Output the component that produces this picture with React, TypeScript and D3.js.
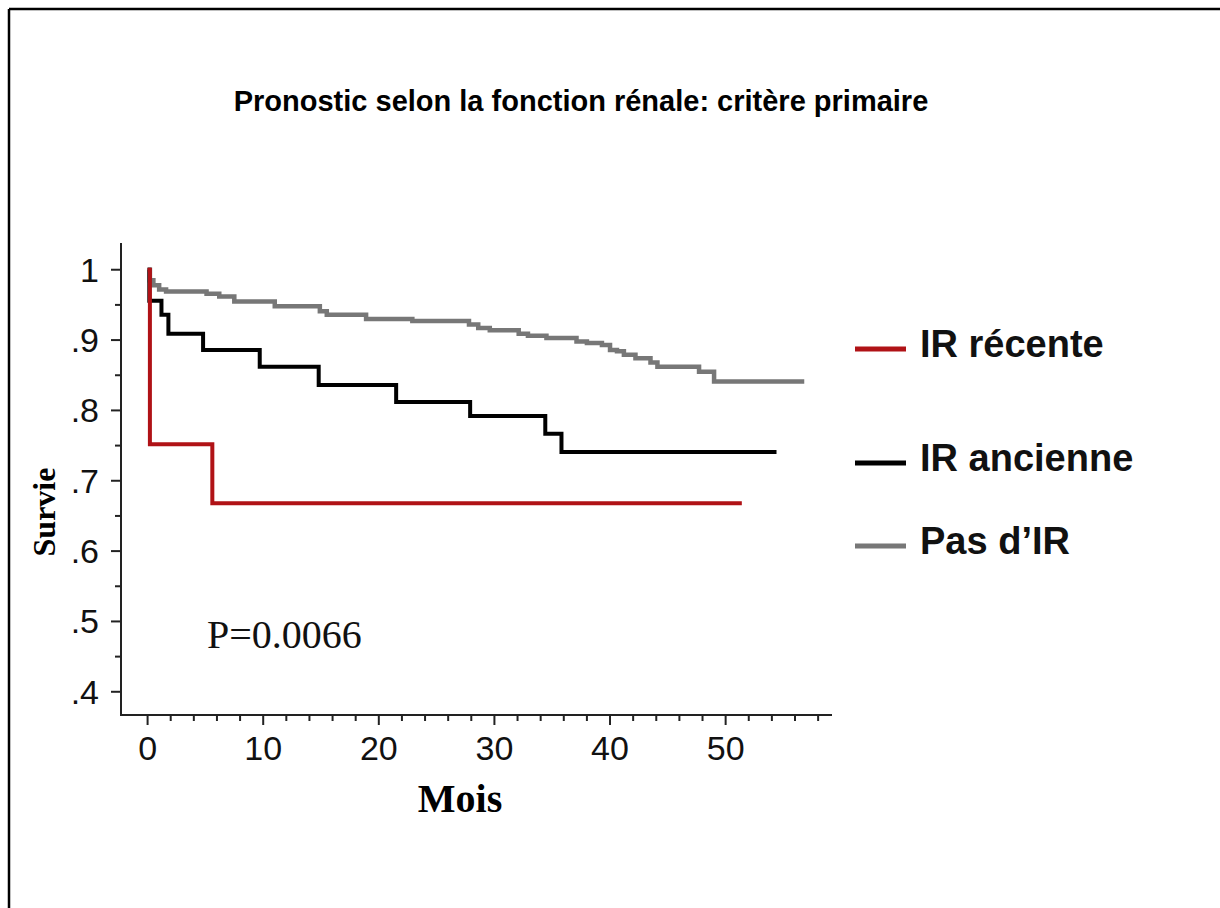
import React from 'react';
import * as d3 from 'd3';

const W = 1220;
const H = 908;

// Kaplan-Meier step points: [time in months, survival]
const recenteTimes = [0, 0.2, 5.6];
const recenteSurv = [1, 0.752, 0.668];
const recenteEnd = 51.4;

const ancienneTimes = [0, 0.15, 1.2, 1.8, 4.8, 9.7, 14.8, 21.5, 27.9, 34.4, 35.8];
const ancienneSurv = [1, 0.956, 0.936, 0.909, 0.886, 0.862, 0.836, 0.812, 0.792, 0.767, 0.741];
const ancienneEnd = 54.4;

const pasTimes = [0, 0.2, 0.5, 1.0, 1.6, 5.1, 6.2, 7.5, 11.0, 14.9, 15.5, 18.9, 22.9, 27.8, 28.6,
  29.6, 32.1, 32.9, 34.5, 37.1, 38.0, 39.3, 40.0, 40.6, 41.2, 42.2, 43.5, 44.1, 47.7, 49.0];
const pasSurv = [1, 0.985, 0.978, 0.972, 0.969, 0.966, 0.962, 0.955, 0.948, 0.941, 0.936, 0.93, 0.927, 0.922, 0.917,
  0.914, 0.909, 0.906, 0.903, 0.898, 0.896, 0.893, 0.886, 0.884, 0.879, 0.874, 0.868, 0.862, 0.855, 0.841];
const pasEnd = 56.8;

const legendLabels = ['IR récente', 'IR ancienne', 'Pas d\u2019IR'];
const seriesColors = ['#b01216', '#000000', '#777777'];

const xMajorTicks = [0, 10, 20, 30, 40, 50];
const yMajorTicks = [1, 0.9, 0.8, 0.7, 0.6, 0.5, 0.4];
const yTickLabels = ['1', '.9', '.8', '.7', '.6', '.5', '.4'];

const App: React.FC = () => {
  const x = d3.scaleLinear().domain([-2.3, 59.2]).range([121, 832]);
  const y = d3.scaleLinear().domain([0.367, 1.038]).range([715, 243]);

  const line = d3
    .line<[number, number]>()
    .x((d) => x(d[0]))
    .y((d) => y(d[1]))
    .curve(d3.curveStepAfter);

  const build = (times: number[], surv: number[], end: number): [number, number][] => {
    const pts: [number, number][] = times.map((t, i) => [t, surv[i]]);
    pts.push([end, surv[surv.length - 1]]);
    return pts;
  };

  const series = [
    build(recenteTimes, recenteSurv, recenteEnd),
    build(ancienneTimes, ancienneSurv, ancienneEnd),
    build(pasTimes, pasSurv, pasEnd),
  ];

  const xMinor = d3.range(0, 59, 2).filter((v) => !xMajorTicks.includes(v));
  const yMinor = [0.95, 0.85, 0.75, 0.65, 0.55, 0.45];

  const legendY = [349, 463, 546];

  return (
    <svg
      width={W}
      height={H}
      style={{ position: 'absolute', left: 0, top: 0, background: '#fff' }}
    >
      <rect width={W} height={H} fill="#fff" />
      {/* frame */}
      <line x1={9} y1={9} x2={W} y2={9} stroke="#000" strokeWidth={2.5} />
      <line x1={9} y1={9} x2={9} y2={H} stroke="#000" strokeWidth={2.5} />

      <text
        x={581}
        y={111}
        textAnchor="middle"
        fontFamily="Arial, 'Liberation Sans', sans-serif"
        fontWeight="bold"
        fontSize={29}
      >
        Pronostic selon la fonction rénale: critère primaire
      </text>

      {/* axes */}
      <g stroke="#222" strokeWidth={2}>
        <line x1={121} y1={243} x2={121} y2={716} />
        <line x1={120} y1={715} x2={832} y2={715} />
        {xMajorTicks.map((t) => (
          <line key={'xM' + t} x1={x(t)} x2={x(t)} y1={715} y2={725} />
        ))}
        {xMinor.map((t) => (
          <line key={'xm' + t} x1={x(t)} x2={x(t)} y1={715} y2={721} />
        ))}
        {yMajorTicks.map((t) => (
          <line key={'yM' + t} x1={111} x2={121} y1={y(t)} y2={y(t)} />
        ))}
        {yMinor.map((t) => (
          <line key={'ym' + t} x1={115} x2={121} y1={y(t)} y2={y(t)} />
        ))}
      </g>

      <g fontFamily="Arial, 'Liberation Sans', sans-serif" fontSize={34} fill="#111">
        {xMajorTicks.map((t) => (
          <text key={'xl' + t} x={x(t)} y={760} textAnchor="middle">
            {t}
          </text>
        ))}
        {yMajorTicks.map((t, i) => (
          <text key={'yl' + t} x={99} y={y(t) + 12} textAnchor="end">
            {yTickLabels[i]}
          </text>
        ))}
      </g>

      <text
        transform="translate(55,512) rotate(-90)"
        textAnchor="middle"
        fontFamily="'Times New Roman', 'Liberation Serif', serif"
        fontWeight="bold"
        fontSize={32}
      >
        Survie
      </text>
      <text
        x={460}
        y={812}
        textAnchor="middle"
        fontFamily="'Times New Roman', 'Liberation Serif', serif"
        fontWeight="bold"
        fontSize={40}
      >
        Mois
      </text>

      <text
        x={207}
        y={648}
        fontFamily="'Times New Roman', 'Liberation Serif', serif"
        fontSize={40}
        fill="#111"
      >
        P=0.0066
      </text>

      {/* curves, drawn grey first */}
      {[2, 1, 0].map((i) => (
        <path
          key={'s' + i}
          d={line(series[i]) || ''}
          fill="none"
          stroke={seriesColors[i]}
          strokeWidth={i === 2 ? 4.5 : 4}
        />
      ))}

      {/* legend */}
      {legendLabels.map((lab, i) => (
        <g key={lab}>
          <line
            x1={855}
            x2={906}
            y1={legendY[i]}
            y2={legendY[i]}
            stroke={seriesColors[i]}
            strokeWidth={5}
          />
          <text
            x={920}
            y={legendY[i] + 8}
            fontFamily="Arial, 'Liberation Sans', sans-serif"
            fontWeight="bold"
            fontSize={38}
            fill="#111"
          >
            {lab}
          </text>
        </g>
      ))}
    </svg>
  );
};

export default App;
